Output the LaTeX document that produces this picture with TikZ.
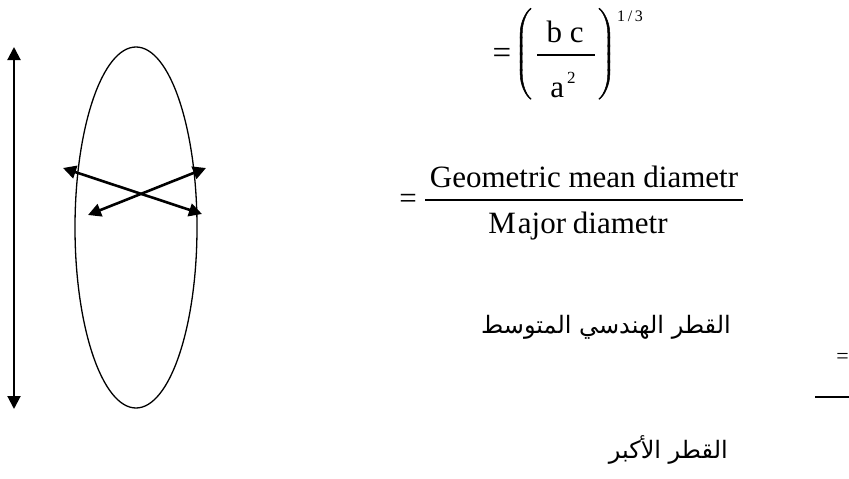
\documentclass[tikz,border=0pt]{standalone}
\usepackage{fontspec}
\usepackage{unicode-math}
\setmainfont{Liberation Serif}
\setmathfont{Latin Modern Math}[FakeBold=2.5]
\newfontfamily\arabicfont[Script=Arabic]{DejaVu Sans}
\TeXXeTstate=1
\usetikzlibrary{arrows.meta,shapes.geometric}
\begin{document}
\begin{tikzpicture}[x=1pt,y=-1pt,
  dblarrow/.style={line width=2pt,{Triangle[length=13pt,width=13pt]}-{Triangle[length=13pt,width=13pt]}},
  crossarrow/.style={line width=2.6pt,{Triangle[length=13pt,width=13pt]}-{Triangle[length=13pt,width=13pt]}},
  ovalshape/.style={draw,ellipse,line width=1.3pt,inner sep=0pt},
  mathtxt/.style={font=\fontsize{31}{31}\selectfont,inner sep=0pt},
  bigeq/.style={font=\fontsize{33}{33}\selectfont,inner sep=0pt},
  smalltxt/.style={font=\fontsize{16}{16}\selectfont,inner sep=0pt},
  artxt/.style={font=\arabicfont\fontsize{24}{24}\selectfont,inner sep=0pt},
  parentxt/.style={font=\fontsize{20}{20}\selectfont,inner sep=0pt},
  barline/.style={line width=1.4pt}]
\useasboundingbox (0,0) rectangle (849,479);
% vertical double arrow
\coordinate (vt) at (14,47);
\coordinate (vb) at (14,409);
\draw[dblarrow] (vt) -- (vb);
% ellipse
\node[ovalshape,minimum width=122pt,minimum height=361pt] (oval) at (136,227.5) {};
% crossing arrows
\coordinate (a1) at (63,168);
\coordinate (a2) at (202,214);
\coordinate (b1) at (88,215);
\coordinate (b2) at (206,168);
\draw[crossarrow] (a1) -- (a2);
\draw[crossarrow] (b1) -- (b2);
% top formula
\node[bigeq] (eqa) at (502,56) {=};
\node[parentxt] (lpar) at (524,55) {$\left(\vrule height 43pt depth 43pt width 0pt\right.$};
\node[mathtxt,anchor=base] (num1) at (565,42) {b\ c};
\node[mathtxt,anchor=base] (den1) at (563,97) {a\raisebox{14pt}{\fontsize{17}{17}\selectfont\,2}};
\coordinate (bar1l) at (537,55);
\coordinate (bar1r) at (595,55);
\draw[barline] (bar1l) -- (bar1r);
\node[parentxt] (rpar) at (606,55) {$\left.\vrule height 43pt depth 43pt width 0pt\right)$};
\node[smalltxt,anchor=base west] (expo) at (617,21) {1\,/\,3};
% second formula
\node[mathtxt] (eqb) at (408,201) {=};
\coordinate (bar2l) at (425,200);
\coordinate (bar2r) at (743,200);
\draw[barline] (bar2l) -- (bar2r);
\node[mathtxt,anchor=base] (num2) at (584,187) {Geometric mean diametr};
\node[mathtxt,anchor=base] (den2) at (578,233) {M\kern2pt ajor\kern-1pt\ diametr};
% arabic labels
\node[artxt,anchor=base east] (ar1) at (731,333) {\beginR القطر الهندسي المتوسط\endR};
\node[artxt,anchor=base east] (ar2) at (728,458) {\beginR القطر الأكبر\endR};
% cut-off right items
\node[font=\fontsize{22}{22}\selectfont,inner sep=0pt,anchor=east] (eqc) at (849,358) {=};
\coordinate (ul1) at (815,397);
\coordinate (ul2) at (849,397);
\draw[line width=2.2pt] (ul1) -- (ul2);
\end{tikzpicture}
\end{document}
